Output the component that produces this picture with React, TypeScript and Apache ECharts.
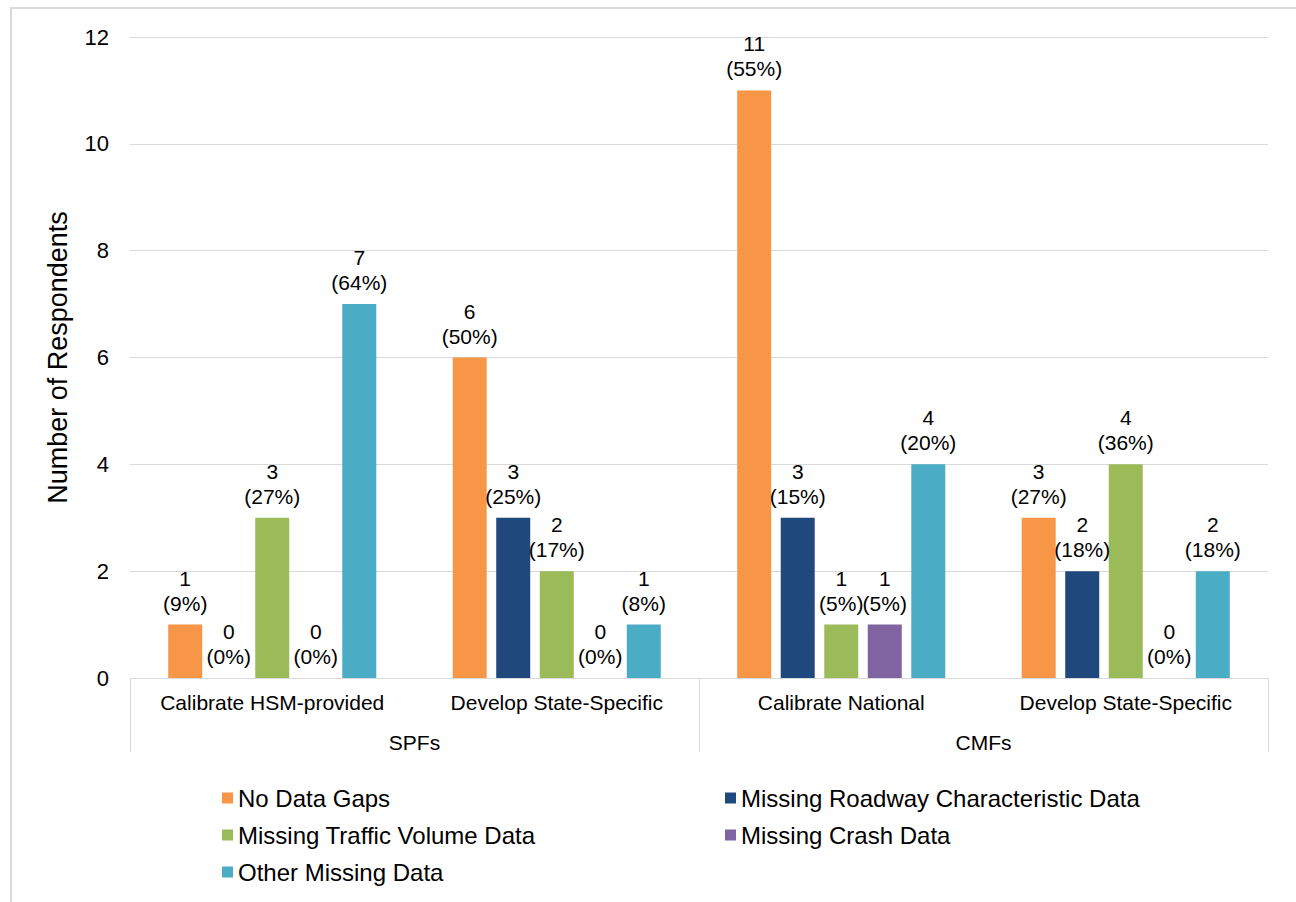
import React, { useEffect, useRef } from "react";
import * as echarts from "echarts";

const categories = ["Calibrate HSM-provided", "Develop State-Specific", "Calibrate National", "Develop State-Specific "];
const groups = ["SPFs", "CMFs"];
const seriesNames = [
  "No Data Gaps",
  "Missing Roadway Characteristic Data",
  "Missing Traffic Volume Data",
  "Missing Crash Data",
  "Other Missing Data",
];
const colors = ["#F79646", "#1F497D", "#9BBB59", "#8064A2", "#4BACC6"];
const noDataGaps = [1, 6, 11, 3];
const missingRoadway = [0, 3, 3, 2];
const missingTraffic = [3, 2, 1, 4];
const missingCrash = [0, 0, 1, 0];
const otherMissing = [7, 1, 4, 2];
const pctNoDataGaps = [9, 50, 55, 27];
const pctRoadway = [0, 25, 15, 18];
const pctTraffic = [27, 17, 5, 36];
const pctCrash = [0, 0, 5, 0];
const pctOther = [64, 8, 20, 18];
const yTicks = [0, 2, 4, 6, 8, 10, 12];

const FONT = "'Liberation Sans', Arial, sans-serif";

export default function App() {
  const ref = useRef<HTMLDivElement>(null);
  useEffect(() => {
    if (!ref.current) return;
    const chart = echarts.init(ref.current, undefined, { renderer: "svg" });
    const values = [noDataGaps, missingRoadway, missingTraffic, missingCrash, otherMissing];
    const pcts = [pctNoDataGaps, pctRoadway, pctTraffic, pctCrash, pctOther];
    const series = seriesNames.map((name, i) => ({
      name,
      type: "bar",
      xAxisIndex: 0,
      barWidth: 34,
      barGap: "28%",
      itemStyle: { color: colors[i] },
      data: values[i],
      label: {
        show: true,
        position: "top",
        distance: 9,
        fontFamily: FONT,
        fontSize: 21,
        lineHeight: 25,
        color: "#000",
        formatter: (p: any) => `${p.value}\n(${pcts[i][p.dataIndex]}%)`,
      },
    }));
    const legendText = { fontFamily: FONT, fontSize: 24, lineHeight: 26, color: "#000" };
    chart.setOption({
      animation: false,
      textStyle: { fontFamily: FONT },
      grid: { left: 130, right: 28, top: 37, bottom: 224, containLabel: false },
      graphic: [
        {
          type: "rect",
          shape: { x: 11, y: 8, width: 2000, height: 2000 },
          style: { fill: "none", stroke: "#d9d9d9", lineWidth: 2 },
          silent: true,
        },
      ],
      xAxis: [
        {
          type: "category",
          data: categories,
          position: "bottom",
          axisLine: { show: true, lineStyle: { color: "#d9d9d9", width: 1 } },
          axisTick: { show: false },
          axisLabel: {
            interval: 0,
            fontFamily: FONT,
            fontSize: 21,
            color: "#000",
            margin: 14,
            formatter: (v: string) => v.trim(),
          },
        },
        {
          type: "category",
          data: groups,
          position: "bottom",
          axisLine: { show: false },
          axisTick: { show: true, length: 74, lineStyle: { color: "#d9d9d9", width: 1 } },
          axisLabel: { interval: 0, fontFamily: FONT, fontSize: 21, color: "#000", margin: 54 },
        },
      ],
      yAxis: {
        type: "value",
        min: yTicks[0],
        max: yTicks[yTicks.length - 1],
        interval: 2,
        name: "Number of Respondents",
        nameLocation: "middle",
        nameGap: 59,
        nameRotate: 90,
        nameTextStyle: { fontFamily: FONT, fontSize: 27, color: "#000" },
        axisLine: { show: false },
        axisTick: { show: false },
        axisLabel: { fontFamily: FONT, fontSize: 22, color: "#000", margin: 21 },
        splitLine: { lineStyle: { color: "#d9d9d9", width: 1 } },
      },
      legend: [
        {
          data: [seriesNames[0], seriesNames[2], seriesNames[4]],
          orient: "vertical",
          left: 217,
          top: 780,
          icon: "rect",
          itemWidth: 11,
          itemHeight: 11,
          itemGap: 11,
          textStyle: legendText,
          selectedMode: false,
        },
        {
          data: [seriesNames[1], seriesNames[3]],
          orient: "vertical",
          left: 720,
          top: 780,
          icon: "rect",
          itemWidth: 11,
          itemHeight: 11,
          itemGap: 11,
          textStyle: legendText,
          selectedMode: false,
        },
      ],
      series,
    });
    return () => chart.dispose();
  }, []);
  return (
    <div
      ref={ref}
      style={{ position: "fixed", left: 0, top: 0, width: 1296, height: 902, background: "#fff" }}
    />
  );
}
